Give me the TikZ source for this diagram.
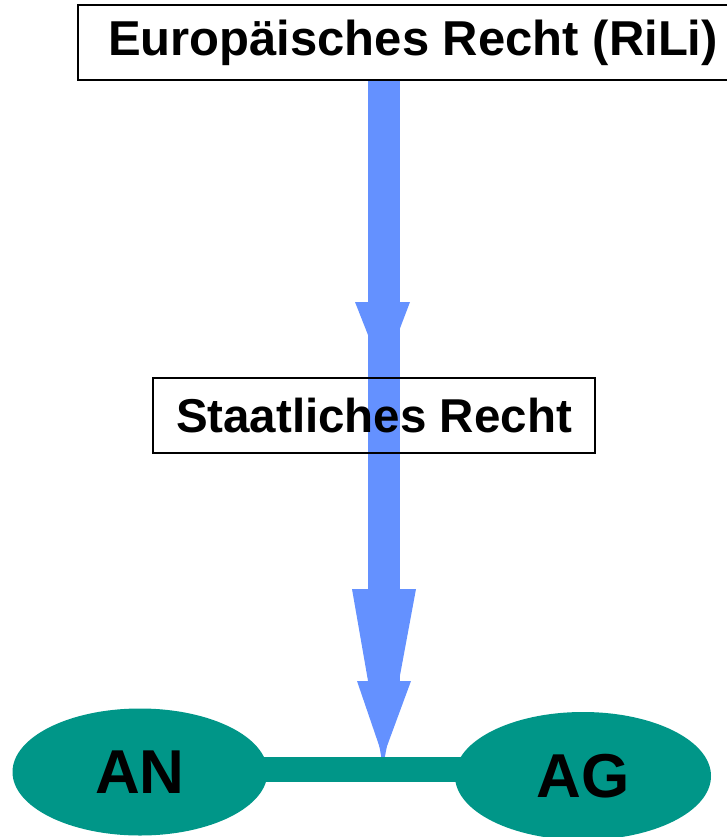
\documentclass[tikz,border=0pt]{standalone}
\usepackage{fontspec}
\setmainfont{Liberation Sans}
\usetikzlibrary{shapes.geometric}
\definecolor{arrowblue}{RGB}{100,145,255}
\definecolor{tealgreen}{RGB}{0,150,136}
\tikzset{
  lawbox/.style={draw=black, line width=2pt, inner sep=0pt},
  party/.style={ellipse, fill=tealgreen, inner sep=0pt, font=\bfseries\fontsize{62}{70}\selectfont},
  bluefill/.style={fill=arrowblue},
}
\begin{document}
\begin{tikzpicture}[x=1pt,y=-1pt]
\useasboundingbox (0,0) rectangle (726,837);
% blue arrow
\fill[bluefill] (368,80) rectangle (400,700);
\fill[bluefill] (355,302) -- (410,302) -- (383,373) -- cycle;
\fill[bluefill] (352,589) -- (416,589) -- (383,767) -- cycle;
\fill[bluefill] (357,681) -- (411,681) -- (383,757) -- cycle;
% boxes
\node[lawbox, minimum width=670pt, minimum height=75pt, font=\bfseries\fontsize{49}{55}\selectfont] (eu) at (413,43) {Europäisches Recht (RiLi)};
\node[lawbox, minimum width=442pt, minimum height=75pt, font=\bfseries\fontsize{47.5}{54}\selectfont] (st) at (374,415.5) {Staatliches Recht};
% parties
\fill[tealgreen] (262,757) rectangle (462,782);
\node[party, minimum width=255pt, minimum height=127pt] (an) at (140,772) {AN};
\node[party, minimum width=256pt, minimum height=128pt] (ag) at (583,776) {AG};
\end{tikzpicture}
\end{document}
